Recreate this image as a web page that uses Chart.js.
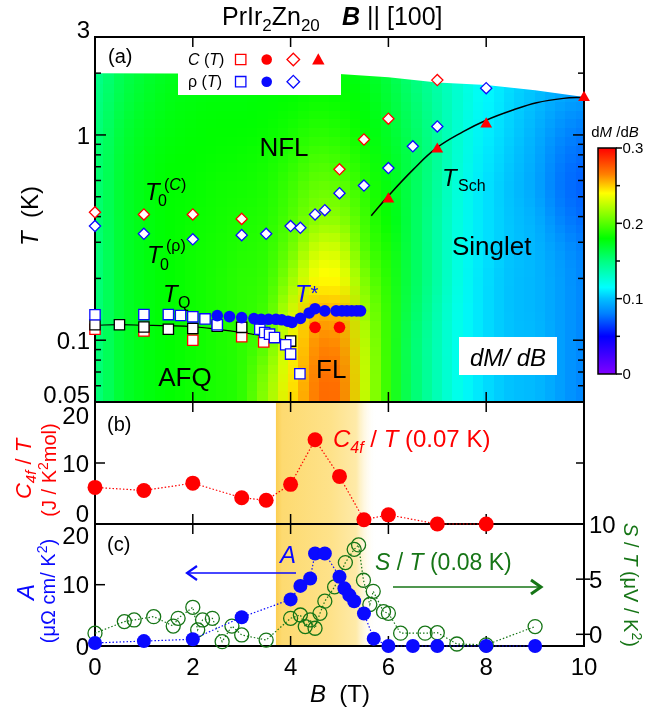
<!DOCTYPE html>
<html>
<head>
<meta charset="utf-8">
<title>PrIr2Zn20 B || [100]</title>
<script src="https://cdn.jsdelivr.net/npm/chart.js"></script>
<style>
  body { margin: 0; background: #fff; }
  #fig { position: relative; width: 660px; height: 707px; overflow: hidden; background: #fff; }
  #fig canvas { position: absolute; left: 0; top: 0; }
</style>
</head>
<body>
<div id="fig">
  <canvas id="panelA" width="660" height="707"></canvas>
  <canvas id="panelC" width="660" height="707"></canvas>
  <canvas id="panelB" width="660" height="707"></canvas>
</div>
<script>
const FONT = "'Liberation Sans', Arial, Helvetica, sans-serif";
const RED = '#ff0000', BLUE = '#0a0aff', GREEN = '#167516', BLACK = '#000';

// shared field axis
const B_TICKS = [0, 2, 4, 6, 8, 10];

// (a) dM/dB map, rows = T (low -> high), columns = B
const MAP_B = [0, 0.5, 1, 1.5, 2, 2.5, 3, 3.5, 4, 4.5, 5, 5.5, 6, 6.5, 7, 7.5, 8, 8.5, 9, 9.5, 10];
const MAP_T = [0.05, 0.07, 0.1, 0.14, 0.2, 0.28, 0.4, 0.56, 0.79, 1.1, 1.6, 2.2];
const MAP_DMDB = [
  [0.150,0.168,0.176,0.180,0.183,0.186,0.190,0.215,0.245,0.268,0.270,0.228,0.190,0.155,0.135,0.118,0.107,0.100,0.098,0.090,0.082],
  [0.150,0.168,0.176,0.180,0.183,0.186,0.190,0.210,0.242,0.266,0.268,0.228,0.190,0.155,0.135,0.118,0.107,0.100,0.098,0.090,0.082],
  [0.150,0.168,0.176,0.180,0.183,0.186,0.190,0.200,0.238,0.262,0.262,0.225,0.190,0.155,0.135,0.118,0.107,0.100,0.098,0.090,0.082],
  [0.150,0.168,0.176,0.180,0.183,0.186,0.190,0.195,0.228,0.254,0.254,0.218,0.190,0.158,0.137,0.118,0.107,0.100,0.097,0.090,0.082],
  [0.150,0.168,0.176,0.180,0.183,0.186,0.190,0.192,0.215,0.240,0.240,0.210,0.188,0.160,0.140,0.120,0.107,0.100,0.097,0.090,0.082],
  [0.150,0.168,0.176,0.180,0.183,0.185,0.188,0.190,0.205,0.228,0.228,0.200,0.185,0.160,0.140,0.120,0.108,0.101,0.097,0.088,0.080],
  [0.152,0.168,0.176,0.180,0.182,0.184,0.186,0.188,0.198,0.212,0.212,0.195,0.180,0.160,0.140,0.121,0.108,0.101,0.095,0.082,0.075],
  [0.152,0.168,0.176,0.180,0.181,0.183,0.184,0.186,0.194,0.204,0.203,0.190,0.177,0.160,0.142,0.122,0.108,0.100,0.092,0.078,0.072],
  [0.152,0.167,0.175,0.179,0.180,0.181,0.182,0.184,0.189,0.196,0.194,0.185,0.174,0.160,0.143,0.124,0.110,0.102,0.093,0.080,0.075],
  [0.150,0.165,0.173,0.177,0.179,0.180,0.180,0.181,0.184,0.188,0.186,0.180,0.170,0.157,0.142,0.125,0.112,0.104,0.096,0.086,0.080],
  [0.148,0.162,0.170,0.175,0.177,0.178,0.178,0.179,0.180,0.182,0.181,0.177,0.167,0.154,0.140,0.126,0.114,0.106,0.100,0.093,0.090],
  [0.145,0.160,0.168,0.173,0.175,0.176,0.177,0.178,0.178,0.179,0.178,0.174,0.164,0.150,0.137,0.124,0.114,0.107,0.102,0.097,0.095]
];
// upper edge of the measured map
const MAP_TOP_B = [0, 5, 6, 7, 8, 9, 10];
const MAP_TOP_T = [2.0, 1.98, 1.91, 1.8, 1.75, 1.65, 1.53];

// (a) phase diagram points
const SQC_B = [0, 1, 2, 3, 3.45];
const SQC_T = [0.113, 0.111, 0.100, 0.104, 0.098];
const SQM_B = [0, 0.5, 1, 1.5, 2, 2.5, 3, 4];
const SQM_T = [0.119, 0.119, 0.116, 0.113, 0.114, 0.117, 0.1155, 0.099];
const SQR_B = [0, 1, 1.5, 1.75, 2, 2.25, 2.5, 3.37, 3.47, 3.57, 3.67, 3.9, 4.0, 4.19];
const SQR_T = [0.133, 0.1333, 0.1333, 0.132, 0.130, 0.127, 0.119, 0.113, 0.109, 0.107, 0.103, 0.095, 0.0856, 0.0686];
const DIAC_B = [0, 1, 2, 3, 5, 5.5, 6, 7];
const DIAC_T = [0.42, 0.41, 0.41, 0.39, 0.68, 0.95, 1.2, 1.85];
const DIAR_B = [0, 1, 2, 3, 3.5, 4, 4.2, 4.5, 4.7, 5, 5.5, 6, 6.5, 7, 8];
const DIAR_T = [0.36, 0.33, 0.31, 0.325, 0.33, 0.36, 0.353, 0.41, 0.43, 0.52, 0.567, 0.69, 0.88, 1.1, 1.69];
const TRI_B = [6, 7, 8, 10];
const TRI_T = [0.487, 0.852, 1.13, 1.52];
const TSTAR_B = [2.5, 2.75, 3.0, 3.25, 3.4, 3.55, 3.7, 3.82, 3.95, 4.03, 4.2, 4.38, 4.5, 4.7, 4.93, 5.05, 5.15, 5.25, 5.35, 5.43];
const TSTAR_T = [0.1318, 0.1303, 0.1289, 0.1274, 0.1264, 0.1264, 0.1264, 0.1257, 0.1236, 0.1222, 0.1277, 0.1358, 0.1424, 0.139, 0.139, 0.139, 0.139, 0.139, 0.139, 0.139];
const DOTC_B = [4.5, 5.0];
const DOTC_T = [0.1155, 0.1155];
const TQ_B = [0, 0.5, 1, 1.5, 2, 2.5, 3, 3.5, 4];
const TQ_T = [0.1183, 0.119, 0.1183, 0.1176, 0.1163, 0.113, 0.109, 0.1042, 0.099];
const TSCH_B = [5.65, 5.99, 6.5, 6.98, 7.53, 8.01, 8.55, 9.03, 9.58, 9.99];
const TSCH_T = [0.404, 0.502, 0.676, 0.862, 1.037, 1.183, 1.323, 1.435, 1.507, 1.524];
const T_TICKS = [3, 1, 0.1, 0.05];
const T_LABELS = ['3', '1', '0.1', '0.05'];
const T_MINOR = [0.06, 0.07, 0.08, 0.09, 0.2, 0.3, 0.4, 0.5, 0.6, 0.7, 0.8, 0.9, 2];
const CB_TICKS = [0, 0.1, 0.2, 0.3];
const CB_LABELS = ['0', '0.1', '0.2', '0.3'];
const CB_MINOR = [0.05, 0.15, 0.25];

// (b) C4f/T at 0.07 K
const C_B = [0, 1, 2, 3, 3.5, 4, 4.5, 5, 5.5, 6, 7, 8];
const C_VAL = [6.0, 5.5, 6.7, 4.3, 3.9, 6.5, 13.8, 7.8, 0.7, 1.5, 0, 0];
const C_TICKS = [20, 10, 0];

// (c) A coefficient and S/T at 0.08 K
const A_B = [0, 1, 2, 3, 4, 4.2, 4.4, 4.5, 4.7, 5.0, 5.1, 5.2, 5.3, 5.5, 5.7, 6, 6.5, 7, 8, 9];
const A_VAL = [0.5, 0.8, 1.1, 4.7, 7.6, 9.8, 11.0, 15.1, 15.1, 11.3, 9.4, 8.3, 7.3, 5.3, 1.2, 0, 0, 0, 0, 0];
const S_B = [0, 0.6, 0.8, 1.2, 1.6, 1.7, 2.0, 2.1, 2.2, 2.4, 2.6, 2.8, 3.0, 3.5, 4.0, 4.2, 4.3, 4.4, 4.5, 4.6, 4.7, 4.9, 5.12, 5.3, 5.39, 5.49, 5.62, 5.69, 5.9, 6.0, 6.25, 6.75, 7.0, 7.4, 8.0, 9.0];
const S_VAL = [0.1, 1.15, 1.3, 1.6, 0.75, 1.45, 2.45, 0.4, 1.3, 1.45, -0.67, 0.75, -0.06, -0.52, 1.45, 1.75, 0.7, 1.3, 0.55, 1.9, 3.0, 4.3, 6.5, 7.7, 8.1, 4.9, 2.7, 3.9, 2.05, 1.9, 0.1, 0.1, 0.15, -0.88, -0.95, 0.7];
const A_TICKS = [20, 10, 0];
const S_TICKS = [10, 5, 0];
const BAND_B = [3.7, 5.75];

// colour scale of the map
const CMAP = [[0, [128, 0, 255]], [0.05, [0, 0, 255]], [0.08, [0, 128, 255]], [0.1, [0, 192, 255]],
  [0.115, [0, 255, 255]], [0.15, [0, 255, 128]], [0.18, [0, 255, 0]], [0.225, [192, 255, 0]],
  [0.24, [255, 255, 0]], [0.265, [255, 128, 0]], [0.3, [255, 0, 0]]];

function cmap(v) {
  if (v <= CMAP[0][0]) return CMAP[0][1];
  for (let i = 1; i < CMAP.length; i++) {
    if (v <= CMAP[i][0]) {
      const [v0, c0] = CMAP[i - 1], [v1, c1] = CMAP[i];
      const f = (v - v0) / (v1 - v0);
      return c0.map((c, k) => Math.round(c + (c1[k] - c) * f));
    }
  }
  return CMAP[CMAP.length - 1][1];
}

// map image: one pixel per grid cell, then a blocky upscale like the measured map
const nB = MAP_B.length, nT = MAP_T.length;
const src = document.createElement('canvas');
src.width = nB; src.height = nT;
const sctx = src.getContext('2d');
const img = sctx.createImageData(nB, nT);
for (let r = 0; r < nT; r++) {
  for (let c = 0; c < nB; c++) {
    const col = cmap(MAP_DMDB[r][c]);
    const i = ((nT - 1 - r) * nB + c) * 4;
    img.data[i] = col[0]; img.data[i + 1] = col[1]; img.data[i + 2] = col[2]; img.data[i + 3] = 255;
  }
}
sctx.putImageData(img, 0, 0);
const mid = document.createElement('canvas');
mid.width = 50; mid.height = 42;
const mctx = mid.getContext('2d');
mctx.imageSmoothingEnabled = true;
mctx.imageSmoothingQuality = 'high';
mctx.drawImage(src, 0, 0, mid.width, mid.height);

const pts = (xs, ys) => xs.map((v, i) => ({ x: v, y: ys[i] }));
const font = (size, style) => (style ? style + ' ' : '') + size + 'px ' + FONT;

// parts: [text, size, style, dy]
function rich(ctx, parts, x, y, align) {
  ctx.textAlign = 'left';
  ctx.textBaseline = 'alphabetic';
  let w = 0;
  parts.forEach(p => { ctx.font = font(p[1], p[2]); w += ctx.measureText(p[0]).width; });
  let cx = align === 'center' ? x - w / 2 : align === 'right' ? x - w : x;
  parts.forEach(p => {
    ctx.font = font(p[1], p[2]);
    ctx.fillText(p[0], cx, y + (p[3] || 0));
    cx += ctx.measureText(p[0]).width;
  });
}

function seg(ctx, x0, y0, x1, y1) {
  ctx.beginPath(); ctx.moveTo(x0, y0); ctx.lineTo(x1, y1); ctx.stroke();
}

function rotated(ctx, cx, cy, ang, fn) {
  ctx.save(); ctx.translate(cx, cy); ctx.rotate(ang); fn(); ctx.restore();
}

function frame(chart) {
  const { ctx, chartArea: a, scales: { x } } = chart;
  ctx.save();
  ctx.strokeStyle = BLACK;
  ctx.lineWidth = 2;
  ctx.strokeRect(a.left, a.top, a.right - a.left, a.bottom - a.top);
  ctx.lineWidth = 1.5;
  B_TICKS.forEach(v => {
    const px = x.getPixelForValue(v);
    if (px > a.left + 2 && px < a.right - 2) {
      seg(ctx, px, a.top, px, a.top + 10);
      seg(ctx, px, a.bottom, px, a.bottom - 10);
    }
  });
  ctx.restore();
}

function band(chart) {
  const { ctx, chartArea: a, scales: { x } } = chart;
  const x0 = x.getPixelForValue(BAND_B[0]), x1 = x.getPixelForValue(BAND_B[1]);
  const g = ctx.createLinearGradient(x0, 0, x1, 0);
  g.addColorStop(0, 'rgba(252,206,80,1)');
  g.addColorStop(0.06, 'rgba(253,218,112,1)');
  g.addColorStop(0.55, 'rgba(254,226,138,1)');
  g.addColorStop(0.8, 'rgba(254,234,168,1)');
  g.addColorStop(1, 'rgba(255,255,255,0)');
  ctx.save();
  ctx.fillStyle = g;
  ctx.fillRect(x0, a.top, x1 - x0, a.bottom - a.top);
  ctx.restore();
}

function sym(ctx, kind, cx, cy, color) {
  ctx.save();
  ctx.strokeStyle = color; ctx.fillStyle = color; ctx.lineWidth = 1.3;
  ctx.beginPath();
  if (kind === 'sq') {
    ctx.rect(cx - 5.2, cy - 5.2, 10.4, 10.4); ctx.fillStyle = '#fff'; ctx.fill(); ctx.stroke();
  } else if (kind === 'dot') {
    ctx.arc(cx, cy, 5.3, 0, 2 * Math.PI); ctx.fill();
  } else if (kind === 'dia') {
    ctx.moveTo(cx, cy - 6.3); ctx.lineTo(cx + 6.3, cy); ctx.lineTo(cx, cy + 6.3); ctx.lineTo(cx - 6.3, cy);
    ctx.closePath(); ctx.fillStyle = '#fff'; ctx.fill(); ctx.stroke();
  } else {
    ctx.moveTo(cx, cy - 6.8); ctx.lineTo(cx + 6.2, cy + 4.6); ctx.lineTo(cx - 6.2, cy + 4.6);
    ctx.closePath(); ctx.fill();
  }
  ctx.restore();
}

function arrow(ctx, x0, x1, y, color, lw, headLw) {
  const d = x1 > x0 ? 1 : -1;
  ctx.save();
  ctx.strokeStyle = color; ctx.lineWidth = lw;
  seg(ctx, x0, y, x1, y);
  ctx.lineWidth = headLw;
  ctx.beginPath();
  ctx.moveTo(x1 - d * 10, y - 7); ctx.lineTo(x1, y); ctx.lineTo(x1 - d * 10, y + 7);
  ctx.stroke();
  ctx.restore();
}

const panelA = {
  id: 'panelA',
  beforeDatasetsDraw(chart) {
    const { ctx, chartArea: a, scales: { x, y } } = chart;
    const dB = MAP_B[1] - MAP_B[0];
    const l0 = Math.log10(MAP_T[0]), l1 = Math.log10(MAP_T[nT - 1]);
    const dl = (l1 - l0) / (nT - 1);
    const X0 = x.getPixelForValue(MAP_B[0] - dB / 2), X1 = x.getPixelForValue(MAP_B[nB - 1] + dB / 2);
    const Y0 = y.getPixelForValue(Math.pow(10, l1 + dl / 2)), Y1 = y.getPixelForValue(Math.pow(10, l0 - dl / 2));
    ctx.save();
    ctx.beginPath();
    ctx.rect(a.left, a.top, a.right - a.left, a.bottom - a.top);
    ctx.clip();
    ctx.beginPath();
    ctx.moveTo(a.left, a.bottom);
    MAP_TOP_B.forEach((b, i) => ctx.lineTo(x.getPixelForValue(b), y.getPixelForValue(MAP_TOP_T[i])));
    ctx.lineTo(a.right, a.bottom);
    ctx.closePath();
    ctx.clip();
    ctx.imageSmoothingEnabled = false;
    ctx.drawImage(mid, X0, Y0, X1 - X0, Y1 - Y0);
    ctx.restore();
    // legend background
    ctx.fillStyle = '#fff';
    ctx.fillRect(178, a.top, 163, 58);
    frame(chart);
    ctx.save();
    ctx.strokeStyle = BLACK; ctx.lineWidth = 1.5;
    T_TICKS.concat(T_MINOR).forEach(v => {
      const py = y.getPixelForValue(v);
      if (py < a.top + 2 || py > a.bottom - 2) return;
      const L = T_TICKS.includes(v) ? 11 : 6;
      seg(ctx, a.left, py, a.left + L, py);
      seg(ctx, a.right - L, py, a.right, py);
    });
    ctx.restore();
  },
  afterDatasetsDraw(chart) {
    const { ctx, chartArea: a, scales: { y } } = chart;
    ctx.save();
    ctx.fillStyle = BLACK;
    // title
    rich(ctx, [['PrIr', 25], ['2', 17, '', 6], ['Zn', 25], ['20', 17, '', 6]], 222, 25, 'left');
    rich(ctx, [['B', 25, 'bold italic'], [' || [100]', 25]], 342, 25, 'left');
    // T axis
    T_TICKS.forEach((v, i) => {
      const py = y.getPixelForValue(v);
      const edge = py < a.top + 2 || py > a.bottom - 2;
      rich(ctx, [[T_LABELS[i], 24]], 90, edge ? py + 1 : py + 8.6, 'right');
    });
    rotated(ctx, 29, 216, -Math.PI / 2, () => rich(ctx, [['T', 24, 'italic'], ['  (K)', 24]], 0, 8.6, 'center'));
    // legend
    rich(ctx, [['C', 16, 'italic'], [' (', 16], ['T', 16, 'italic'], [')', 16]], 188, 65, 'left');
    rich(ctx, [['\u03c1 (', 16], ['T', 16, 'italic'], [')', 16]], 188, 87, 'left');
    sym(ctx, 'sq', 240.7, 59.5, RED); sym(ctx, 'dot', 266.7, 59.5, RED);
    sym(ctx, 'dia', 293.3, 59.5, RED); sym(ctx, 'tri', 318.3, 60, RED);
    sym(ctx, 'sq', 240.7, 81.7, BLUE); sym(ctx, 'dot', 266.7, 81.7, BLUE); sym(ctx, 'dia', 293.3, 81.7, BLUE);
    // labels inside the map
    rich(ctx, [['(a)', 20]], 108, 63, 'left');
    rich(ctx, [['NFL', 26]], 284, 156, 'center');
    rich(ctx, [['T', 24, 'italic']], 145, 200, 'left');
    rich(ctx, [['0', 16]], 158, 206, 'left');
    rich(ctx, [['(', 16], ['C', 16, 'italic'], [')', 16]], 164, 190, 'left');
    rich(ctx, [['T', 24, 'italic']], 147, 263, 'left');
    rich(ctx, [['0', 16]], 160, 270, 'left');
    rich(ctx, [['(\u03c1)', 16]], 166, 251, 'left');
    rich(ctx, [['T', 24, 'italic']], 163, 302, 'left');
    rich(ctx, [['Q', 16]], 178, 308, 'left');
    rich(ctx, [['AFQ', 26]], 185, 386, 'center');
    rich(ctx, [['FL', 26]], 316, 378, 'left');
    rich(ctx, [['Singlet', 26]], 452, 255, 'left');
    rich(ctx, [['T', 24, 'italic']], 442, 186, 'left');
    rich(ctx, [['Sch', 16]], 458, 191, 'left');
    ctx.fillStyle = BLUE;
    rich(ctx, [['T', 24, 'italic'], ['*', 20, 'italic', -2]], 295, 302, 'left');
    // dM/dB tag
    ctx.fillStyle = '#fff';
    ctx.fillRect(459, 337, 98, 38);
    ctx.fillStyle = BLACK;
    rich(ctx, [['dM/ dB', 24, 'italic']], 508, 366, 'center');
    // colour bar
    const cb = { left: 598, right: 616, top: 148, bottom: 374 };
    const cbY = v => cb.bottom - v / 0.3 * (cb.bottom - cb.top);
    const g = ctx.createLinearGradient(0, cb.bottom, 0, cb.top);
    CMAP.forEach(([v, c]) => g.addColorStop(v / 0.3, 'rgb(' + c.join(',') + ')'));
    ctx.fillStyle = g;
    ctx.fillRect(cb.left, cb.top, cb.right - cb.left, cb.bottom - cb.top);
    ctx.strokeStyle = BLACK; ctx.lineWidth = 1.5;
    ctx.strokeRect(cb.left, cb.top, cb.right - cb.left, cb.bottom - cb.top);
    CB_TICKS.forEach((v, i) => {
      const py = cbY(v);
      seg(ctx, cb.right, py, cb.right + 6, py);
      ctx.fillStyle = BLACK;
      rich(ctx, [[CB_LABELS[i], 15]], cb.right + 6.5, py + 5.4, 'left');
    });
    CB_MINOR.forEach(v => { const py = cbY(v); seg(ctx, cb.right, py, cb.right + 4, py); });
    ctx.fillStyle = BLACK;
    rich(ctx, [['d', 15], ['M', 15, 'italic'], [' /d', 15], ['B', 15, 'italic']], 615, 137, 'center');
    ctx.restore();
  }
};

const panelB = {
  id: 'panelB',
  beforeDatasetsDraw(chart) {
    const { ctx, chartArea: a, scales: { y } } = chart;
    band(chart);
    frame(chart);
    ctx.save();
    ctx.strokeStyle = BLACK; ctx.lineWidth = 1.5;
    const py = y.getPixelForValue(10);
    seg(ctx, a.left, py, a.left + 10, py);
    seg(ctx, a.right - 8, py, a.right, py);
    ctx.restore();
  },
  afterDatasetsDraw(chart) {
    const { ctx, chartArea: a, scales: { y } } = chart;
    ctx.save();
    ctx.fillStyle = BLACK;
    C_TICKS.forEach(v => {
      const py = y.getPixelForValue(v);
      let base = py + 8.6;
      if (py < a.top + 2) base = a.top + 22;
      else if (py > a.bottom - 2) base = a.bottom - 2;
      rich(ctx, [[String(v), 24]], 89, base, 'right');
    });
    rich(ctx, [['(b)', 20]], 107, 431, 'left');
    ctx.fillStyle = RED;
    rich(ctx, [['C', 24, 'italic'], ['4f', 16, 'italic', 6], [' / ', 24], ['T', 24, 'italic'], [' (0.07 K)', 24]], 333, 447, 'left');
    rotated(ctx, 23, 469, -Math.PI / 2, () =>
      rich(ctx, [['C', 22, 'italic'], ['4f', 15, 'italic', 5], [' / ', 22], ['T', 22, 'italic']], 0, 8, 'center'));
    rotated(ctx, 49, 470, -Math.PI / 2, () =>
      rich(ctx, [['(J / K', 20], ['2', 14, '', -8], ['mol)', 20]], 0, 7.2, 'center'));
    ctx.restore();
  }
};

const panelC = {
  id: 'panelC',
  beforeDatasetsDraw(chart) {
    const { ctx, chartArea: a, scales: { y, y2 } } = chart;
    band(chart);
    frame(chart);
    ctx.save();
    ctx.strokeStyle = BLACK; ctx.lineWidth = 1.5;
    const py = y.getPixelForValue(10);
    seg(ctx, a.left, py, a.left + 10, py);
    [5, 0].forEach(v => { const p = y2.getPixelForValue(v); seg(ctx, a.right - 8, p, a.right + 6, p); });
    ctx.restore();
  },
  afterDatasetsDraw(chart) {
    const { ctx, chartArea: a, scales: { x, y, y2 } } = chart;
    ctx.save();
    ctx.fillStyle = BLACK;
    A_TICKS.forEach(v => {
      const py = y.getPixelForValue(v);
      const base = py < a.top + 2 ? a.top + 20 : py + 8.6;
      rich(ctx, [[String(v), 24]], 89, base, 'right');
    });
    S_TICKS.forEach(v => rich(ctx, [[String(v), 24]], 589, y2.getPixelForValue(v) + 8.6, 'left'));
    B_TICKS.forEach(v => rich(ctx, [[String(v), 24]], x.getPixelForValue(v), 675, 'center'));
    rich(ctx, [['B', 24, 'italic'], ['  (T)', 24]], 340, 702, 'center');
    rich(ctx, [['(c)', 20]], 107, 551, 'left');
    // A side
    ctx.fillStyle = BLUE;
    rich(ctx, [['A', 24, 'italic']], 280, 563, 'left');
    arrow(ctx, 296, 187, 573, BLUE, 1.6, 2.2);
    rotated(ctx, 25, 592, -Math.PI / 2, () => rich(ctx, [['A', 24, 'italic']], 0, 8.6, 'center'));
    rotated(ctx, 48, 591, -Math.PI / 2, () =>
      rich(ctx, [['(\u03bc\u03a9 cm/ K', 20], ['2', 14, '', -8], [')', 20]], 0, 7.2, 'center'));
    // S side
    ctx.fillStyle = GREEN;
    rich(ctx, [['S', 23, 'italic'], [' / ', 23], ['T', 23, 'italic'], [' (0.08 K)', 23]], 375, 570, 'left');
    arrow(ctx, 393, 541, 587, GREEN, 1.6, 3);
    rotated(ctx, 631, 585, Math.PI / 2, () =>
      rich(ctx, [['S', 20, 'italic'], [' / ', 20], ['T', 20, 'italic'], [' (\u03bcV / K', 20], ['2', 14, '', -8], [')', 20]], 0, 7.2, 'center'));
    ctx.restore();
  }
};

const common = {
  responsive: false,
  animation: false,
  events: [],
  plugins: { legend: { display: false }, tooltip: { enabled: false } }
};

const marker = (style, r, fill, stroke, bw) => ({
  pointStyle: style, pointRadius: r, pointBackgroundColor: fill,
  pointBorderColor: stroke, pointBorderWidth: bw, clip: false, showLine: false
});

new Chart(document.getElementById('panelA'), {
  type: 'scatter',
  data: {
    datasets: [
      { data: pts(DOTC_B, DOTC_T), order: 1, ...marker('circle', 5.8, RED, RED, 0) },
      { data: pts(TSTAR_B, TSTAR_T), order: 2, ...marker('circle', 5.8, BLUE, BLUE, 0) },
      { data: pts(TRI_B, TRI_T), order: 3, ...marker('triangle', 6.8, RED, RED, 0) },
      { data: pts(DIAC_B, DIAC_T), order: 4, ...marker('rectRot', 5.6, '#fff', RED, 1.3) },
      { data: pts(DIAR_B, DIAR_T), order: 5, ...marker('rectRot', 5.6, '#fff', BLUE, 1.3) },
      { data: pts(SQR_B, SQR_T), order: 6, ...marker('rect', 7.3, '#fff', BLUE, 1.3) },
      { data: pts(SQM_B, SQM_T), order: 7, ...marker('rect', 7.3, '#fff', BLACK, 1.3) },
      { data: pts(SQC_B, SQC_T), order: 8, ...marker('rect', 7.3, '#fff', RED, 1.3) },
      { data: pts(TSCH_B, TSCH_T), order: 9, showLine: true, tension: 0.4, pointRadius: 0,
        borderColor: BLACK, borderWidth: 1.5, clip: false },
      { data: pts(TQ_B, TQ_T), order: 10, showLine: true, tension: 0.4, pointRadius: 0,
        borderColor: BLACK, borderWidth: 1.2, clip: false }
    ]
  },
  options: {
    ...common,
    layout: { padding: { left: 95, right: 76, top: 37, bottom: 305 } },
    scales: {
      x: { type: 'linear', min: 0, max: 10, display: false },
      y: { type: 'logarithmic', min: 0.05, max: 3, display: false }
    }
  },
  plugins: [panelA]
});

new Chart(document.getElementById('panelB'), {
  type: 'scatter',
  data: {
    datasets: [
      { data: pts(C_B, C_VAL), ...marker('circle', 7.5, RED, RED, 0), showLine: true,
        borderColor: RED, borderWidth: 1.2, borderDash: [1.5, 2] }
    ]
  },
  options: {
    ...common,
    layout: { padding: { left: 95, right: 76, top: 402, bottom: 183 } },
    scales: {
      x: { type: 'linear', min: 0, max: 10, display: false },
      y: { type: 'linear', min: 0, max: 20, display: false }
    }
  },
  plugins: [panelB]
});

new Chart(document.getElementById('panelC'), {
  type: 'scatter',
  data: {
    datasets: [
      { data: pts(A_B, A_VAL), yAxisID: 'y', order: 1, ...marker('circle', 7, BLUE, BLUE, 0),
        showLine: true, borderColor: BLUE, borderWidth: 1.2, borderDash: [1.5, 2] },
      { data: pts(S_B, S_VAL), yAxisID: 'y2', order: 2, ...marker('circle', 7, 'rgba(0,0,0,0)', GREEN, 1.3),
        showLine: true, borderColor: GREEN, borderWidth: 1.2, borderDash: [1.5, 2] }
    ]
  },
  options: {
    ...common,
    layout: { padding: { left: 95, right: 76, top: 524, bottom: 61 } },
    scales: {
      x: { type: 'linear', min: 0, max: 10, display: false },
      y: { type: 'linear', min: 0, max: 19.9, display: false },
      y2: { type: 'linear', position: 'right', min: -1.06, max: 10, display: false }
    }
  },
  plugins: [panelC]
});
</script>
</body>
</html>
